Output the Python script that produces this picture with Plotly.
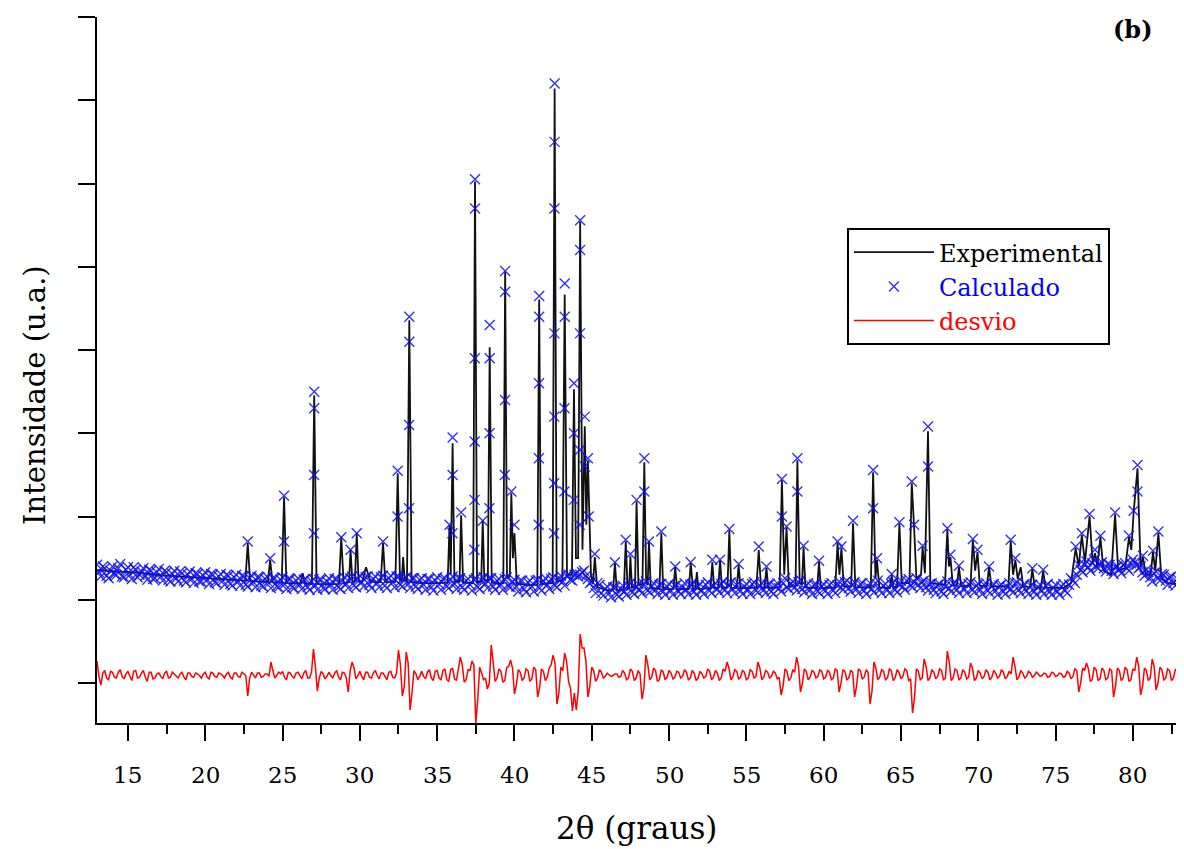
import numpy as np
import plotly.graph_objects as go

# ---------------- data ----------------
# Experimental pattern: vertices of the observed profile (2theta, counts)
obs_2theta = [13.0, 14.0, 15.0, 16.0, 17.0, 18.0, 19.0, 20.0, 21.0, 22.0,
    22.6, 22.75, 22.9, 24.05, 24.2, 24.35, 24.95, 25.1, 25.25, 26.15,
    26.3, 26.45, 26.9, 27.05, 27.2, 28.0, 28.65, 28.8, 28.95, 29.3,
    29.4, 29.52, 29.68, 29.8, 29.92, 30.15, 30.4, 30.7, 31.35, 31.5,
    31.65, 32.3, 32.45, 32.6, 32.72, 32.8, 32.9, 33.05, 33.2, 33.35,
    34.0, 35.0, 35.68, 35.8, 35.88, 36.0, 36.12, 36.45, 36.55, 36.68,
    37.33, 37.45, 37.58, 37.85, 37.95, 38.05, 38.28, 38.4, 38.53, 39.0,
    39.28, 39.4, 39.52, 39.7, 39.8, 39.9, 40.0, 40.15, 40.8, 41.48,
    41.6, 41.72, 42.47, 42.6, 42.73, 43.1, 43.25, 43.4, 43.72, 43.85,
    43.98, 44.12, 44.25, 44.4, 44.55, 44.65, 44.75, 44.95, 45.08, 45.2,
    45.35, 46.0, 46.38, 46.5, 46.62, 47.08, 47.2, 47.32, 47.42, 47.5,
    47.6, 47.8, 47.9, 48.02, 48.28, 48.4, 48.52, 48.62, 48.7, 48.82,
    49.38, 49.5, 49.62, 50.28, 50.4, 50.52, 51.28, 51.4, 51.55, 51.7,
    51.8, 51.9, 52.68, 52.8, 52.92, 53.18, 53.3, 53.42, 53.78, 53.9,
    54.02, 54.38, 54.5, 54.62, 55.65, 55.8, 55.95, 56.18, 56.3, 56.42,
    57.15, 57.3, 57.45, 57.6, 57.75, 58.18, 58.3, 58.45, 58.6, 58.7,
    58.82, 59.58, 59.7, 59.82, 60.75, 60.9, 61.02, 61.15, 61.3, 61.78,
    61.9, 62.05, 63.05, 63.2, 63.35, 63.45, 63.6, 64.28, 64.4, 64.52,
    64.75, 64.9, 65.05, 65.55, 65.7, 65.85, 66.0, 66.3, 66.4, 66.55,
    66.75, 66.9, 67.85, 68.0, 68.1, 68.2, 68.35, 68.62, 68.75, 68.9,
    69.5, 69.65, 69.8, 69.95, 70.1, 70.55, 70.7, 70.85, 71.95, 72.1,
    72.25, 72.4, 72.55, 72.75, 72.9, 73.35, 73.5, 73.65, 74.05, 74.2,
    74.35, 75.5, 76.0, 76.3, 76.5, 76.7, 76.9, 77.2, 77.4, 77.55,
    77.7, 77.9, 78.1, 78.6, 78.85, 79.05, 79.5, 79.75, 79.9, 80.05,
    80.3, 80.5, 80.65, 80.85, 81.15, 81.3, 81.45, 81.65, 81.85, 82.3,
    82.9]
obs_counts = [1356, 1344, 1332, 1320, 1296, 1284, 1272, 1260, 1248, 1236,
    1230, 1680, 1228, 1214, 1476, 1212, 1206, 2232, 1204, 1198,
    1320, 1196, 1190, 3456, 1190, 1188, 1190, 1752, 1200, 1210,
    1596, 1215, 1220, 1800, 1220, 1215, 1392, 1215, 1212, 1680,
    1212, 1215, 2520, 1230, 1240, 1512, 1240, 1230, 4356, 1215,
    1200, 1200, 1205, 1896, 1300, 2880, 1220, 1215, 2016, 1205,
    1200, 6024, 1210, 1220, 1956, 1230, 1230, 4032, 1210, 1190,
    1200, 4944, 1260, 1280, 2280, 1500, 1800, 1200, 1176, 1180,
    4608, 1190, 1200, 7140, 1220, 1230, 4668, 1300, 1300, 3528,
    1500, 1500, 5544, 1600, 3084, 1900, 2676, 1300, 1190, 1512,
    1150, 1116, 1116, 1440, 1116, 1120, 1704, 1130, 1140, 1524,
    1150, 1150, 2184, 1180, 1190, 2652, 1200, 1180, 1704, 1140,
    1130, 1800, 1130, 1128, 1392, 1128, 1128, 1440, 1128, 1130,
    1332, 1128, 1140, 1452, 1140, 1140, 1476, 1145, 1150, 1836,
    1140, 1140, 1416, 1140, 1145, 1596, 1150, 1150, 1380, 1140,
    1150, 2436, 1300, 1872, 1160, 1160, 2676, 1200, 1190, 1632,
    1150, 1140, 1452, 1140, 1150, 1680, 1300, 1620, 1160, 1160,
    1920, 1150, 1150, 2532, 1250, 1476, 1150, 1140, 1296, 1150,
    1160, 1920, 1200, 1200, 2400, 1872, 1250, 1300, 1632, 1320,
    3024, 1200, 1180, 1848, 1400, 1512, 1180, 1170, 1392, 1165,
    1170, 1716, 1350, 1572, 1170, 1160, 1392, 1160, 1165, 1704,
    1300, 1476, 1250, 1392, 1160, 1150, 1368, 1150, 1145, 1344,
    1145, 1140, 1200, 1620, 1400, 1776, 1450, 2004, 1450, 1560,
    1400, 1752, 1350, 1300, 2028, 1350, 1380, 1752, 1600, 2052,
    2580, 1400, 1512, 1300, 1300, 1572, 1350, 1800, 1250, 1200,
    1190]

# Calculated pattern: background band, read every 0.25 deg from 13.0 deg ...
calc_start = 13.0
calc_step = 0.25
calc_band_counts = [
    1420, 1280, 1380, 1260, 1400, 1300, 1430, 1270, 1390, 1250, 1360, 1300,
    1380, 1240, 1350, 1260, 1370, 1230, 1330, 1220, 1350, 1220, 1320, 1210,
    1340, 1200, 1310, 1220, 1330, 1190, 1300, 1200, 1310, 1180, 1290, 1170,
    1300, 1170, 1280, 1160, 1290, 1150, 1270, 1160, 1280, 1140, 1260, 1150,
    1270, 1130, 1250, 1140, 1260, 1130, 1250, 1120, 1250, 1120, 1240, 1130,
    1260, 1120, 1250, 1130, 1270, 1140, 1280, 1150, 1290, 1160, 1280, 1140,
    1280, 1150, 1290, 1140, 1290, 1150, 1280, 1160, 1270, 1140, 1260, 1130,
    1260, 1120, 1250, 1110, 1270, 1120, 1260, 1140, 1280, 1130, 1260, 1120,
    1250, 1110, 1260, 1130, 1270, 1140, 1260, 1120, 1250, 1120, 1270, 1150,
    1240, 1100, 1230, 1090, 1230, 1100, 1240, 1110, 1260, 1130, 1270, 1150,
    1290, 1170, 1300, 1230, 1320, 1300, 1350, 1250, 1220, 1080, 1180, 1050,
    1160, 1030, 1150, 1040, 1170, 1060, 1200, 1070, 1190, 1080, 1220, 1090,
    1200, 1070, 1190, 1060, 1190, 1060, 1180, 1070, 1200, 1070, 1190, 1060,
    1190, 1070, 1210, 1080, 1200, 1090, 1220, 1080, 1210, 1080, 1200, 1070,
    1190, 1070, 1210, 1090, 1200, 1080, 1190, 1070, 1200, 1100, 1260, 1130,
    1220, 1110, 1240, 1090, 1200, 1070, 1190, 1080, 1190, 1070, 1200, 1080,
    1220, 1120, 1230, 1100, 1210, 1080, 1200, 1070, 1200, 1090, 1230, 1080,
    1190, 1080, 1210, 1090, 1230, 1120, 1250, 1150, 1260, 1140, 1230, 1110,
    1200, 1080, 1190, 1070, 1220, 1100, 1210, 1080, 1200, 1080, 1210, 1090,
    1190, 1070, 1200, 1080, 1190, 1060, 1180, 1070, 1200, 1090, 1210, 1080,
    1190, 1070, 1180, 1060, 1180, 1070, 1190, 1060, 1180, 1060, 1190, 1080,
    1260, 1200, 1420, 1330, 1460, 1350, 1480, 1380, 1450, 1340, 1420, 1310,
    1400, 1320, 1440, 1350, 1480, 1420, 1400, 1290, 1330, 1220, 1340, 1230,
    1300, 1180, 1280, 1170]
# ... and at the mid points (13.125, 13.375, ...)
calc_band_mid_counts = [
    1330, 1400, 1290, 1350, 1310, 1380, 1280, 1360, 1300, 1390, 1270, 1340,
    1290, 1360, 1250, 1330, 1280, 1350, 1240, 1310, 1260, 1340, 1230, 1300,
    1250, 1320, 1220, 1290, 1240, 1310, 1210, 1280, 1230, 1300, 1190, 1270,
    1220, 1290, 1180, 1260, 1210, 1270, 1170, 1250, 1200, 1260, 1160, 1240,
    1190, 1250, 1150, 1230, 1180, 1240, 1150, 1220, 1170, 1240, 1140, 1220,
    1180, 1250, 1150, 1230, 1190, 1260, 1170, 1250, 1210, 1270, 1180, 1250,
    1200, 1270, 1170, 1260, 1210, 1280, 1180, 1250, 1190, 1260, 1160, 1240,
    1180, 1250, 1150, 1230, 1190, 1250, 1160, 1240, 1190, 1260, 1150, 1230,
    1180, 1240, 1150, 1230, 1190, 1260, 1160, 1230, 1180, 1250, 1160, 1220,
    1160, 1230, 1130, 1210, 1160, 1230, 1140, 1220, 1180, 1250, 1170, 1240,
    1220, 1290, 1240, 1300, 1280, 1330, 1290, 1200, 1140, 1200, 1080, 1130,
    1080, 1150, 1060, 1130, 1100, 1170, 1090, 1150, 1120, 1190, 1110, 1160,
    1120, 1180, 1100, 1160, 1110, 1170, 1100, 1150, 1120, 1180, 1100, 1160,
    1110, 1180, 1110, 1170, 1130, 1190, 1120, 1170, 1130, 1180, 1110, 1160,
    1120, 1190, 1110, 1170, 1120, 1180, 1100, 1160, 1140, 1200, 1150, 1190,
    1150, 1210, 1130, 1170, 1120, 1180, 1100, 1160, 1110, 1180, 1110, 1170,
    1150, 1210, 1140, 1170, 1130, 1190, 1110, 1160, 1130, 1200, 1120, 1170,
    1120, 1190, 1120, 1180, 1160, 1230, 1170, 1210, 1180, 1220, 1150, 1190,
    1120, 1180, 1100, 1160, 1140, 1200, 1120, 1170, 1130, 1190, 1120, 1170,
    1120, 1180, 1110, 1160, 1110, 1170, 1100, 1150, 1130, 1200, 1120, 1160,
    1110, 1170, 1100, 1150, 1110, 1170, 1100, 1140, 1100, 1160, 1110, 1180,
    1230, 1300, 1360, 1420, 1390, 1440, 1400, 1430, 1380, 1430, 1350, 1390,
    1360, 1420, 1380, 1440, 1450, 1380, 1330, 1360, 1270, 1320, 1260, 1310,
    1230, 1270, 1200, 1250]

# Calculated pattern: points on the diffraction peaks
calc_peak_2theta = [22.75, 24.2, 25.1, 25.1, 27.05, 27.05, 27.04, 27.03,
    28.8, 29.4, 29.8, 31.5, 32.45, 32.44, 33.2, 33.2, 33.19, 33.18,
    35.8, 36.0, 36.0, 35.99, 36.55, 37.45, 37.45, 37.44, 37.43, 37.42, 37.41,
    37.95, 38.4, 38.4, 38.39, 38.38, 39.4, 39.4, 39.39, 39.38, 39.8, 40.0,
    41.6, 41.6, 41.59, 41.58, 41.57, 42.6, 42.6, 42.59, 42.59, 42.58, 42.57, 42.56,
    43.25, 43.25, 43.24, 43.23, 43.85, 43.85, 43.84, 44.25, 44.25, 44.24, 44.23, 44.22,
    44.55, 44.55, 44.75, 44.8, 45.2, 46.5, 47.2, 47.5, 47.9, 48.4, 48.4, 48.7, 49.5,
    50.4, 51.4, 52.8, 53.3, 53.9, 54.5, 55.8, 56.3, 57.3, 57.3, 57.6, 58.3, 58.3, 58.7,
    59.7, 60.9, 61.15, 61.9, 63.2, 63.2, 63.45, 64.4, 64.9, 65.7, 65.85, 66.4, 66.75, 66.75,
    68.0, 68.2, 68.75, 69.65, 69.95, 70.7, 72.1, 72.4, 73.5, 74.2, 76.3, 76.7, 77.2, 77.55, 77.9,
    78.85, 79.75, 80.05, 80.3, 80.3, 80.65, 81.3, 81.65]
calc_peak_counts = [1700, 1500, 2250, 1700, 3500, 3300, 2500, 1800,
    1750, 1600, 1800, 1700, 2550, 2000, 4400, 4100, 3100, 2100,
    1900, 2950, 2500, 1800, 2050, 6050, 5700, 3900, 2900, 2200, 1600,
    1950, 4300, 3900, 3000, 2100, 4950, 4700, 3400, 2500, 2300, 1900,
    4650, 4400, 3600, 2700, 1900, 7200, 6500, 5700, 4200, 3200, 2400, 1800,
    4800, 4400, 3300, 2300, 3600, 3000, 2200, 5560, 5200, 4200, 2800, 1900,
    3200, 2600, 2700, 2000, 1550, 1450, 1720, 1550, 2200, 2700, 2300, 1700, 1820,
    1400, 1450, 1480, 1480, 1850, 1430, 1640, 1400, 2450, 2000, 1880, 2700, 2300, 1650,
    1470, 1700, 1640, 1950, 2560, 2100, 1500, 1310, 1930, 2420, 1900, 1650, 3080, 2600,
    1860, 1540, 1410, 1730, 1600, 1400, 1720, 1500, 1380, 1360, 1640, 1800, 2030, 1600, 1770,
    2050, 1770, 2070, 2620, 2300, 1530, 1590, 1820]

# Difference curve (desvio), read every 0.25 deg from 13.0 deg ...
desvio_start = 13.0
desvio_step = 0.25
desvio_counts = [
    264, -24, 150, 40, 130, 60, 160, 50, 140, 30, 150, 70, 150, 20, 130, 60,
    120, 50, 140, 70, 110, 60, 130, 40, 120, 70, 110, 60, 130, 50, 120, 70,
    110, 60, 130, 50, 120, 70, 110, -156, 130, 60, 120, 80, 110, 252, 60, 130,
    140, 40, 120, 60, 130, 50, 150, 60, 408, -96, 140, 50, 130, 60, 150, 40,
    120, -108, 252, 50, 140, 40, 130, 60, 150, 50, 120, 40, 140, 60, 396, -156,
    372, -324, 150, 40, 140, 50, 160, 30, 150, 40, 170, 20, 180, 30, 312, 10,
    160, 264, -480, 190, 40, -72, 456, 20, 170, 10, 190, 276, -132, 160, 30, 170,
    20, 190, -168, 170, 30, 180, 336, -252, 190, 360, 20, -336, -324, 588, 420, -168,
    190, 20, 160, 60, 120, 80, 110, 70, 150, 40, 170, 30, 150, -192, 336, 40,
    180, 20, 160, 40, 150, 50, 140, 60, 160, 40, 150, 30, 140, 60, 170, 40,
    150, 30, 170, 252, 40, 160, 50, 150, 40, 160, 60, 252, 40, 150, 60, 140,
    50, -144, 170, 30, 160, 312, -108, 170, 40, 150, 60, 160, 50, 150, 40, 170,
    -108, 160, 40, 150, -168, 170, 50, 160, -252, 252, 40, 160, 40, 170, 30, 160,
    50, 170, 30, -360, 170, 40, 288, 30, 160, 50, 170, 40, 384, 30, 170, 40,
    160, 50, 240, 30, 150, 50, 160, 40, 150, 60, 160, 50, 140, 312, 40, 150,
    60, 140, 70, 130, 80, 120, 70, 130, 80, 120, 70, 140, 50, 170, -108, 180,
    240, 20, 190, 30, 180, 40, 170, -168, 180, 30, 190, 20, 170, 312, -144, 180,
    30, 288, -84, 190, 40, 170, 30, 160]
# ... and at the mid points (13.125, 13.375, ...)
desvio_mid_counts = [
    80, 120, 60, 140, 70, 130, 80, 110, 90, 140, 60, 120, 70, 130, 50, 110,
    80, 120, 60, 130, 90, 110, 70, 120, 80, 120, 90, 110, 70, 130, 80, 120,
    90, 110, 70, 120, 80, 130, 90, 60, 100, 120, 70, 110, 80, 150, 90, 110,
    70, 130, 80, 120, 90, 120, 60, 130, 200, 60, 110, 80, 90, 120, 70, 130,
    60, 150, 180, 90, 80, 130, 70, 120, 90, 120, 80, 130, 70, 120, 220, -40,
    240, -120, 110, 80, 80, 130, 60, 140, 60, 150, 40, 160, 50, 170, 220, 40,
    150, 220, -200, 120, 60, 0, 250, 60, 140, 30, 200, 180, -20, 130, 60, 150,
    50, 160, -60, 140, 70, 220, 240, -120, 150, 260, -60, -120, -100, 420, 260, -40,
    150, 60, 130, 80, 100, 90, 110, 80, 120, 60, 140, 60, 110, -60, 220, 70,
    150, 40, 130, 70, 120, 70, 130, 80, 130, 60, 120, 60, 110, 80, 140, 70,
    120, 60, 140, 180, 70, 140, 70, 130, 60, 140, 80, 180, 70, 130, 80, 120,
    70, -40, 140, 60, 130, 200, 0, 140, 70, 130, 80, 140, 70, 130, 60, 150,
    0, 140, 60, 130, -40, 150, 70, 130, -100, 180, 70, 140, 60, 150, 60, 130,
    80, 150, 50, -180, 140, 60, 200, 60, 130, 80, 150, 60, 250, 60, 150, 60,
    130, 70, 180, 60, 120, 80, 130, 70, 120, 80, 130, 80, 110, 200, 70, 120,
    80, 120, 90, 110, 90, 110, 80, 120, 90, 110, 80, 120, 80, 150, 0, 150,
    170, 40, 160, 50, 150, 60, 150, -40, 150, 60, 160, 40, 150, 200, -40, 150,
    60, 200, 0, 160, 60, 150, 60, 140]

x_ticks = [15, 20, 25, 30, 35, 40, 45, 50, 55, 60, 65, 70, 75, 80]
x_tick_labels = [str(v) for v in x_ticks]


def merge_grid(start, step, main_vals, mid_vals):
    """Interleave values read on the grid and on its mid points."""
    xs, ys = [], []
    for i, (a, b) in enumerate(zip(main_vals, mid_vals)):
        xs += [start + step * i, start + step * (i + 0.5)]
        ys += [a, b]
    return np.array(xs), ys


calc_band_x, calc_band_y = merge_grid(calc_start, calc_step,
                                      calc_band_counts, calc_band_mid_counts)
desvio_x, desvio_y = merge_grid(desvio_start, desvio_step,
                                desvio_counts, desvio_mid_counts)

calc_x = list(calc_band_x) + calc_peak_2theta
calc_y = calc_band_y + calc_peak_counts

# ---------------- figure ----------------
FONT = "DejaVu Serif"
fig = go.Figure()
fig.add_trace(go.Scatter(
    x=obs_2theta, y=obs_counts, mode="lines", name="Experimental",
    line=dict(color="#111111", width=1.8)))
fig.add_trace(go.Scatter(
    x=calc_x, y=calc_y, mode="markers",
    name="<span style='color:#0000ff'>Calculado</span>",
    marker=dict(symbol="x-thin", size=10,
                line=dict(color="rgba(15,15,240,0.85)", width=1.4))))
fig.add_trace(go.Scatter(
    x=desvio_x, y=desvio_y, mode="lines",
    name="<span style='color:#ff0000'>desvio</span>",
    line=dict(color="#ff0000", width=1.5)))

# tick labels placed as text below the axis, at the tick positions
tick_label_annotations = [
    dict(text=lab, x=v, xref="x", y=-0.0737, yref="paper", showarrow=False,
         font=dict(family=FONT, size=23, color="black"),
         xanchor="center", yanchor="middle")
    for v, lab in zip(x_ticks, x_tick_labels)
]

# the page body has an 8 px margin: the figure is sized to sit inside it
fig.update_layout(
    width=1168, height=841,
    margin=dict(l=89, r=0, t=9, b=126),
    paper_bgcolor="white", plot_bgcolor="white",
    font=dict(family=FONT, color="black"),
    showlegend=True,
    legend=dict(x=0.695, y=0.701, xanchor="left", yanchor="top",
                bordercolor="black", borderwidth=2, bgcolor="white",
                font=dict(family=FONT, size=24, color="black"),
                itemwidth=80, tracegroupgap=2),
    xaxis=dict(range=[13, 82.79], tickmode="array", tickvals=x_ticks,
               showticklabels=False, showgrid=False, zeroline=False,
               showline=True, linecolor="black", linewidth=2,
               ticks="outside", ticklen=16, tickwidth=2, tickcolor="black",
               minor=dict(dtick=2.5, tick0=0, ticks="outside", ticklen=9,
                          tickwidth=2, tickcolor="black")),
    yaxis=dict(range=[-480, 8000], dtick=1000, tick0=0, showgrid=False,
               zeroline=False, showline=True, linecolor="black", linewidth=2,
               ticks="outside", ticklen=17, tickwidth=2, tickcolor="black",
               showticklabels=False),
    annotations=tick_label_annotations + [
        dict(text="2θ (graus)", xref="paper", yref="paper", x=0.5, y=-0.1487,
             showarrow=False, font=dict(family=FONT, size=31, color="black"),
             xanchor="center", yanchor="middle"),
        dict(text="Intensidade (u.a.)", xref="paper", yref="paper",
             x=-0.0575, y=0.4646, textangle=-90, showarrow=False,
             font=dict(family=FONT, size=29, color="black"),
             xanchor="center", yanchor="middle"),
        dict(text="<b>(b)</b>", xref="paper", yref="paper", x=0.960, y=0.9816,
             showarrow=False, font=dict(family=FONT, size=24, color="black"),
             xanchor="center", yanchor="middle"),
    ],
)

fig.write_html("out.html")
